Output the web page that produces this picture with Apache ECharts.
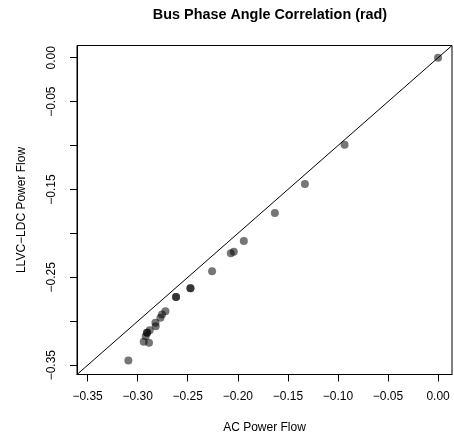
<!DOCTYPE html>
<html>
<head>
<meta charset="utf-8">
<script src="https://cdn.jsdelivr.net/npm/echarts@6/dist/echarts.min.js"></script>
<style>
  html, body { margin: 0; padding: 0; background: #fff; }
  #main { width: 454px; height: 441px; }
</style>
</head>
<body>
<div id="main"></div>
<script>
// AC power flow angles (x) vs LLVC-LDC angles (y), rad
var acFlow = [
  0.000, -0.0934, -0.133, -0.163, -0.194, -0.204, -0.207, -0.2257,
  -0.2473, -0.2473, -0.2617, -0.2617, -0.2723, -0.2757, -0.2773,
  -0.2823, -0.282, -0.288, -0.2907, -0.2907, -0.292, -0.294, -0.2887,
  -0.3093
];
var llvcFlow = [
  0.000, -0.0992, -0.1437, -0.1767, -0.2085, -0.221, -0.2225, -0.2432,
  -0.2625, -0.2625, -0.2723, -0.2723, -0.2886, -0.2924, -0.2961,
  -0.3018, -0.3057, -0.3102, -0.3132, -0.3132, -0.317, -0.3234, -0.3245,
  -0.3447
];
var tickValues = [-0.35, -0.30, -0.25, -0.20, -0.15, -0.10, -0.05, 0.00];
var yLabelValues = [-0.35, -0.25, -0.15, -0.05, 0.00];
var axisLimits = [-0.3606, 0.0139];

var font = 'Liberation Sans, Arial, sans-serif';

function fmt(v) {
  return v.toFixed(2).replace('-', '\u2212');
}

var points = acFlow.map(function (x, i) { return [x, llvcFlow[i]]; });

var chart = echarts.init(document.getElementById('main'), null, { renderer: 'canvas' });

var option = {
  backgroundColor: '#ffffff',
  animation: false,
  title: {
    text: 'Bus Phase Angle Correlation (rad)',
    left: 265,
    top: 3,
    textAlign: 'center',
    textStyle: { fontFamily: font, fontSize: 14.4, fontWeight: 'bold', color: '#000' }
  },
  grid: {
    left: 77, top: 45.5, width: 375, height: 329,
    show: true, borderColor: '#000', borderWidth: 1, backgroundColor: 'transparent'
  },
  xAxis: {
    type: 'value',
    min: axisLimits[0], max: axisLimits[1],
    name: 'AC Power Flow',
    nameLocation: 'middle',
    nameGap: 47,
    nameTextStyle: { fontFamily: font, fontSize: 12, color: '#000' },
    axisLine: { show: true, onZero: false, lineStyle: { color: '#000' } },
    splitLine: { show: false },
    axisTick: { show: true, length: 7, customValues: tickValues, lineStyle: { color: '#000' } },
    axisLabel: {
      customValues: tickValues, margin: 16,
      fontFamily: font, fontSize: 12, color: '#000',
      formatter: fmt
    }
  },
  yAxis: {
    type: 'value',
    min: axisLimits[0], max: axisLimits[1],
    name: 'LLVC\u2212LDC Power Flow',
    nameLocation: 'middle',
    nameGap: 49,
    nameTextStyle: { fontFamily: font, fontSize: 12, color: '#000' },
    axisLine: { show: true, onZero: false, lineStyle: { color: '#000' } },
    splitLine: { show: false },
    axisTick: { show: true, length: 7, customValues: tickValues, lineStyle: { color: '#000' } },
    axisLabel: {
      customValues: yLabelValues, margin: 19, rotate: 90,
      fontFamily: font, fontSize: 12, color: '#000',
      formatter: fmt
    }
  },
  series: [
    {
      type: 'line',
      data: [[axisLimits[0], axisLimits[0]], [axisLimits[1], axisLimits[1]]],
      symbol: 'none',
      lineStyle: { color: '#000', width: 1 },
      silent: true
    },
    {
      type: 'scatter',
      data: points,
      symbolSize: 8,
      itemStyle: { color: 'rgba(0,0,0,0.67)' }
    }
  ]
};

chart.setOption(option);
</script>
</body>
</html>
